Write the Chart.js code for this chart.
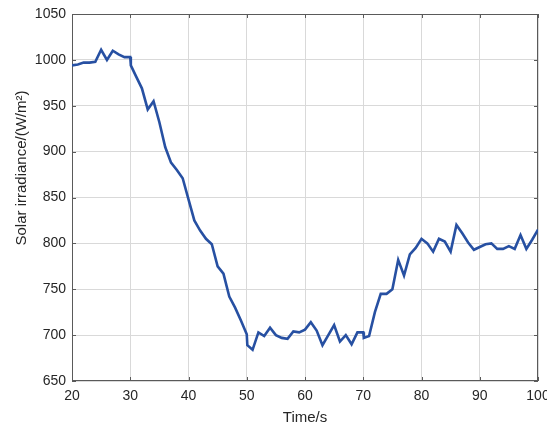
<!DOCTYPE html>
<html lang="en">
  <head>
    <meta charset="UTF-8" />
    <meta name="viewport" content="width=device-width, initial-scale=1.0" />
    <title>Solar irradiance</title>
    <style>
      html, body { margin: 0; padding: 0; background: #fff; overflow: hidden; }
      #wrap { width: 547px; height: 427px; }
    </style>
  </head>
  <body>
    <div id="wrap"><canvas id="myChart"></canvas></div>

    <script src="https://cdn.jsdelivr.net/npm/chart.js"></script>
    <script>
      const timeSec = [
        20, 21, 22, 23, 24, 25, 26, 27, 28, 29, 30, 30.1,
        31, 32, 33, 34, 35, 36, 37, 38, 39, 40,
        41, 42, 43, 44, 45, 46, 47, 48, 49, 50, 50.1,
        51, 52, 53, 54, 55, 56, 57, 58, 59, 60,
        61, 62, 63, 64, 65, 66, 67, 68, 69, 70, 70.1,
        71, 72, 73, 74, 75, 76, 77, 78, 79, 80,
        81, 82, 83, 84, 85, 86, 87, 88, 89, 90,
        91, 92, 93, 94, 95, 96, 97, 98, 99, 100
      ];
      const irradiance = [
        994, 995, 997, 997, 998, 1011, 1000, 1010, 1006, 1003, 1003, 994,
        982, 969, 946, 955, 932, 905, 888, 880, 871, 848,
        825, 814, 805, 799, 775, 767, 742, 730, 716, 701, 689,
        684, 703, 699, 708, 700, 697, 696, 704, 703, 706,
        714, 705, 689, 700, 711, 693, 700, 690, 703, 703, 697,
        699, 725, 745, 745, 750, 782, 765, 788, 795, 805,
        800, 791, 805, 802, 791, 820, 811, 801, 793, 796,
        799, 800, 794, 794, 797, 794, 809, 794, 804, 815
      ];
      const xTicks = [20, 30, 40, 50, 60, 70, 80, 90, 100];
      const yTicks = [650, 700, 750, 800, 850, 900, 950, 1000, 1050];
      const xTitle = "Time/s";
      const yTitle = "Solar irradiance/(W/m\u00B2)";

      const textColor = "#262626";
      const fontFamily = "'Liberation Sans', Arial, sans-serif";

      // box around the axes, small inward ticks and the axis titles
      const frameAndLabels = {
        id: "frameAndLabels",
        beforeDatasetsDraw(chart) {
          const c = chart.ctx;
          const a = chart.chartArea;
          const xs = chart.scales.x;
          const ys = chart.scales.y;
          c.save();
          c.strokeStyle = "#5a5a5a";
          c.lineWidth = 1;
          c.strokeRect(Math.round(a.left) + 0.5, Math.round(a.top) + 0.5,
            Math.round(a.right - a.left) - 1, Math.round(a.bottom - a.top) - 1);
          c.beginPath();
          xTicks.forEach(v => {
            const px = Math.round(xs.getPixelForValue(v)) + 0.5;
            c.moveTo(px, a.bottom); c.lineTo(px, a.bottom - 4);
            c.moveTo(px, a.top); c.lineTo(px, a.top + 4);
          });
          yTicks.forEach(v => {
            const py = Math.round(ys.getPixelForValue(v)) + 0.5;
            c.moveTo(a.left, py); c.lineTo(a.left + 4, py);
            c.moveTo(a.right, py); c.lineTo(a.right - 4, py);
          });
          c.stroke();
          c.restore();
        },
        afterDraw(chart) {
          const c = chart.ctx;
          const a = chart.chartArea;
          c.save();
          c.fillStyle = textColor;
          c.font = "15px " + fontFamily;
          c.textAlign = "center";
          c.textBaseline = "alphabetic";
          c.fillText(xTitle, (a.left + a.right) / 2, 422);
          c.translate(26, 168);
          c.rotate(-Math.PI / 2);
          c.fillText(yTitle, 0, 0);
          c.restore();
        }
      };

      const ctx = document.getElementById("myChart");
      const myChart = new Chart(ctx, {
        type: "line",
        data: {
          datasets: [
            {
              data: timeSec.map((t, i) => ({ x: t, y: irradiance[i] })),
              borderColor: "#2750a2",
              borderWidth: 2.6,
              pointRadius: 0,
              tension: 0,
              fill: false
            }
          ]
        },
        options: {
          responsive: true,
          maintainAspectRatio: false,
          animation: false,
          layout: { padding: { top: 14, right: 9, left: 0, bottom: 0 } },
          plugins: { legend: { display: false }, tooltip: { enabled: false } },
          scales: {
            x: {
              type: "linear",
              min: 20,
              max: 100,
              afterBuildTicks: s => { s.ticks = xTicks.map(v => ({ value: v })); },
              afterFit: s => { s.height = 46; s.paddingLeft = 0; s.paddingRight = 0; },
              grid: { color: "#d9d9d9", lineWidth: 1, drawTicks: false },
              border: { display: false },
              ticks: {
                padding: 7,
                maxRotation: 0,
                autoSkip: false,
                color: textColor,
                font: { family: fontFamily, size: 14 },
                callback: v => String(v)
              }
            },
            y: {
              min: 650,
              max: 1050,
              afterBuildTicks: s => { s.ticks = yTicks.map(v => ({ value: v })); },
              afterFit: s => { s.width = 72; s.paddingTop = 0; s.paddingBottom = 0; },
              grid: { color: "#d9d9d9", lineWidth: 1, drawTicks: false },
              border: { display: false },
              ticks: {
                padding: 6,
                autoSkip: false,
                color: textColor,
                font: { family: fontFamily, size: 14 },
                callback: v => String(v)
              }
            }
          }
        },
        plugins: [frameAndLabels]
      });
    </script>
  </body>
</html>
